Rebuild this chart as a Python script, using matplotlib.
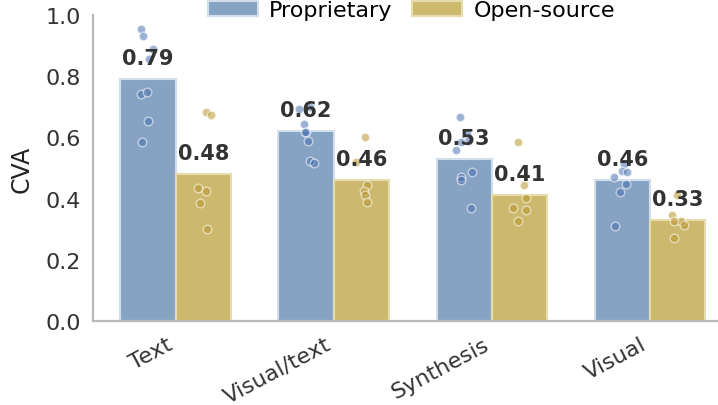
import numpy as np
import matplotlib
matplotlib.use("Agg")
import matplotlib.pyplot as plt

categories = ["Text", "Visual/text", "Synthesis", "Visual"]
groups = ["Proprietary", "Open-source"]

prop_means = [0.79, 0.62, 0.53, 0.46]
open_means = [0.48, 0.46, 0.41, 0.33]

# individual model scores
prop_points = [
    [0.954, 0.931, 0.89, 0.856, 0.742, 0.748, 0.654, 0.585],
    [0.70, 0.693, 0.644, 0.617, 0.617, 0.589, 0.523, 0.516],
    [0.666, 0.611, 0.589, 0.584, 0.559, 0.488, 0.47, 0.462, 0.368],
    [0.513, 0.491, 0.488, 0.47, 0.448, 0.42, 0.311],
]
open_points = [
    [0.683, 0.673, 0.434, 0.425, 0.386, 0.30],
    [0.60, 0.52, 0.444, 0.425, 0.41, 0.39],
    [0.584, 0.444, 0.401, 0.368, 0.361, 0.326],
    [0.41, 0.346, 0.328, 0.325, 0.312, 0.27],
]

bar_colors = ["#87a3c4", "#cdb96e"]
edge_colors = ["#d3deeb", "#e6dcae"]
dot_colors = ["#4c72b0", "#b8962e"]

plt.rcParams["font.family"] = "DejaVu Sans"
fig = plt.figure(figsize=(7.18, 4.06), dpi=100)
ax = fig.add_axes([0.13, 0.207, 0.87, 0.754])

x = np.arange(len(categories))
w = 0.35
rng = np.random.default_rng(3)

for i, (means, pts) in enumerate([(prop_means, prop_points), (open_means, open_points)]):
    pos = x + (i - 0.5) * w
    ax.bar(pos, means, width=w, color=bar_colors[i], edgecolor=edge_colors[i],
           linewidth=1.5, label=groups[i], zorder=2)
    for p, vals in zip(pos, pts):
        jit = rng.uniform(-0.055, 0.055, len(vals))
        ax.scatter(p + jit, vals, s=38, color=dot_colors[i], alpha=0.55,
                   edgecolor="white", linewidth=1.0, zorder=3)
    for p, m in zip(pos, means):
        ax.annotate("{:.2f}".format(m), (p, m), xytext=(0, 8),
                    textcoords="offset points", ha="center", va="bottom",
                    fontsize=15, fontweight="bold", color="#333333", zorder=4)

ax.set_xlim(-0.52, 3.43)
ax.set_ylim(0, 1.0)
ax.set_yticks(np.arange(0, 1.01, 0.2))
ax.tick_params(axis="both", length=0, labelsize=16, colors="#333333")
ax.tick_params(axis="y", pad=9)
ax.tick_params(axis="x", pad=9)
ax.set_xticks(x)
ax.set_xticklabels(categories, rotation=28, ha="right")
ax.set_ylabel("CVA", fontsize=17, color="#222222")
ax.yaxis.set_label_coords(-0.095, 0.5)
for s in ["top", "right"]:
    ax.spines[s].set_visible(False)
for s in ["left", "bottom"]:
    ax.spines[s].set_color("#b8b8b8")
    ax.spines[s].set_linewidth(1.6)

fig.legend(loc="center", bbox_to_anchor=(0.573, 0.972), ncol=2, frameon=False,
           fontsize=16, handlelength=2.25, handletextpad=0.5, columnspacing=0.9)

fig.savefig("out.png", dpi=100)
